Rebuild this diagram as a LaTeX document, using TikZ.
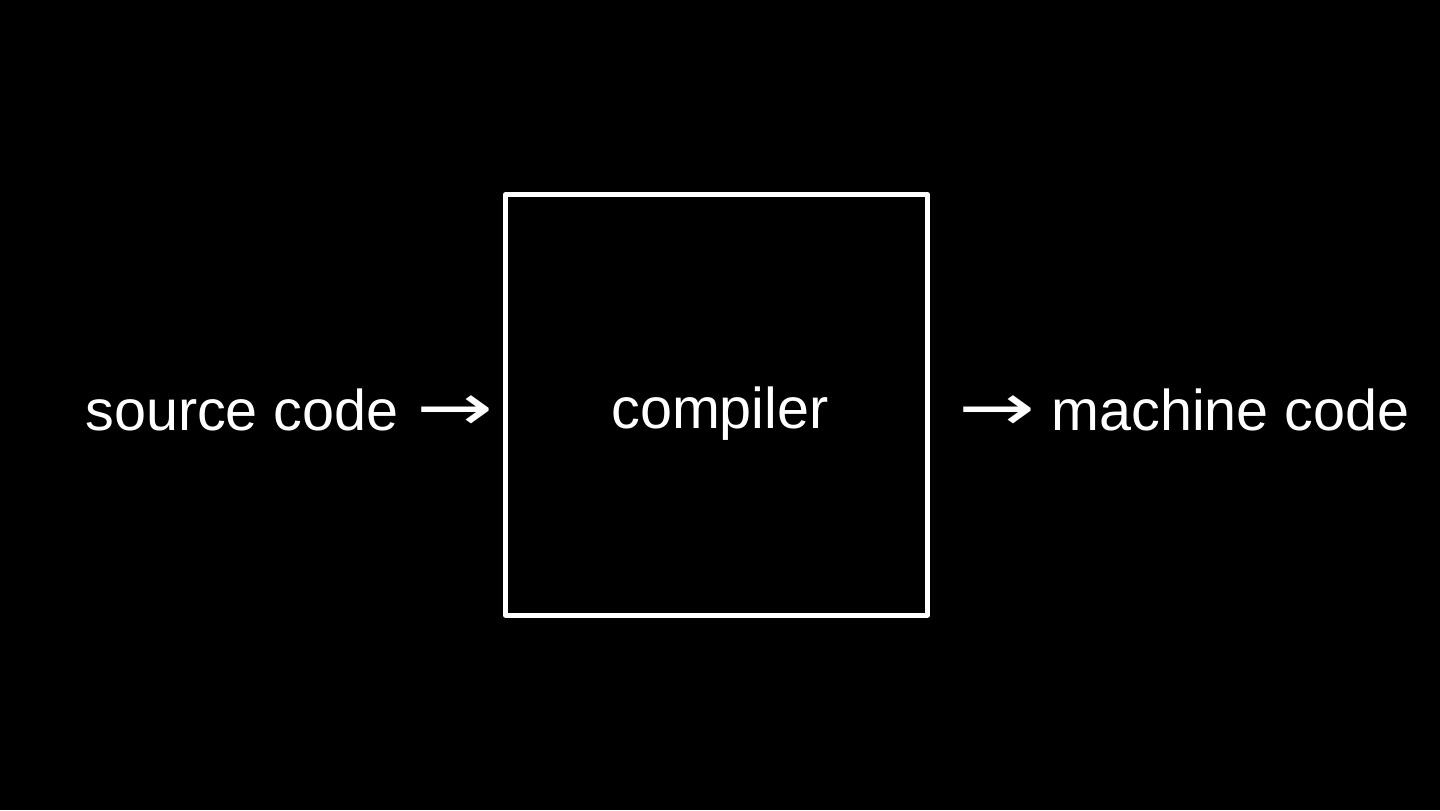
\documentclass[tikz,border=0pt]{standalone}
\usepackage{graphicx}
\usepackage{fontspec}
\setmainfont{Liberation Sans}
\newfontfamily\arrowfont{DejaVu Sans}
\newcommand{\bigarrow}{{\arrowfont\scalebox{1.6}[1.15]{→}}}
\begin{document}
\begin{tikzpicture}[x=0.5pt,y=-0.5pt,
  lbl/.style={text=white,font=\fontsize{28.75pt}{34pt}\selectfont,inner sep=0pt},
  boxstyle/.style={draw=white,line width=2.5pt,line join=round}]
\fill[black] (0,0) rectangle (1440,810);
\useasboundingbox (0,0) rectangle (1440,810);
\draw[boxstyle] (505.5,194.5) rectangle (927.5,615);
\node[lbl,anchor=base west] (src) at (85,430) {source code\hspace{0.31em}\bigarrow};
\node[lbl,anchor=base] (comp) at (720,428) {compiler};
\node[lbl,anchor=base east] (mc) at (1410,430) {\bigarrow\ machine code};
\end{tikzpicture}
\end{document}
